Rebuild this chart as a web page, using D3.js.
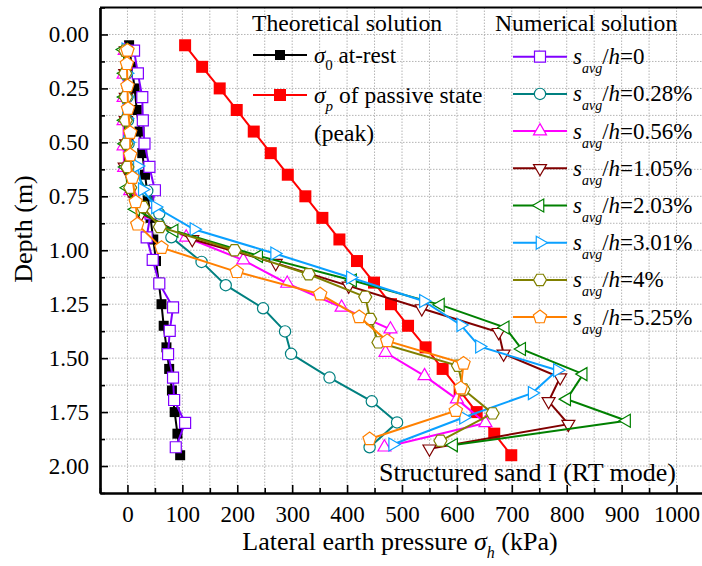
<!DOCTYPE html>
<html>
<head>
<meta charset="utf-8">
<script src="https://cdn.jsdelivr.net/npm/d3@7"></script>
<style>
  body { margin: 0; background: #fff; }
  svg { display: block; font-family: "Liberation Serif", "Times New Roman", serif; }
  .grid line { stroke: #b4b4b4; stroke-width: 1; stroke-dasharray: 1.5, 1.5; }
  .tick text { font-family: "Liberation Serif", "Times New Roman", serif; font-size: 23px; fill: #000; }
</style>
</head>
<body>
<div id="chart"></div>
<script>
"use strict";

//Theoretical solution (depth in m, pressure in kPa)
var theoryDepth = [0.05, 0.15, 0.25, 0.35, 0.45, 0.55, 0.65, 0.75, 0.85, 0.95,
  1.05, 1.15, 1.25, 1.35, 1.45, 1.55, 1.65, 1.75, 1.85, 1.95];
var sigma0 = [3, 8, 13, 17, 22, 27, 32, 37, 42, 47, 52, 57, 62, 66, 71, 76, 81, 86, 91, 96];
var sigmaP = [105, 136, 168, 199, 230, 261, 292, 324, 355, 386, 418, 449, 480, 511, 543, 574, 605, 636, 668, 699];

//Numerical solution, one depth/value pair of arrays per settlement ratio
var s0Depth = [0.075, 0.18, 0.29, 0.398, 0.506, 0.614, 0.722, 0.83, 0.94, 1.045, 1.154, 1.265, 1.374, 1.481, 1.59, 1.694, 1.80, 1.913];
var s0Value = [12, 19, 27, 28, 31, 40, 50, 42, 35, 46, 58, 83, 77, 74, 83, 85, 105, 88];

var s028Depth = [0.07, 0.18, 0.29, 0.398, 0.506, 0.614, 0.725, 0.83, 0.94, 1.054, 1.162, 1.269, 1.376, 1.48, 1.59, 1.70, 1.798, 1.913];
var s028Value = [-2, -1, 0, 1, 2, 8, 36, 58, 80, 135, 179, 247, 287, 298, 368, 445, 491, 441];

var s056Depth = [0.075, 0.185, 0.293, 0.40, 0.517, 0.617, 0.725, 0.83, 0.94, 1.046, 1.154, 1.265, 1.366, 1.474, 1.582, 1.69, 1.80, 1.913];
var s056Value = [-5, -7, -7, -7, -7, -6, 5, 30, 107, 211, 291, 390, 479, 470, 541, 600, 652, 468];

var s105Depth = [0.075, 0.18, 0.29, 0.398, 0.506, 0.614, 0.722, 0.83, 0.949, 1.06, 1.165, 1.27, 1.38, 1.48, 1.59, 1.70, 1.806, 1.92];
var s105Value = [-3, -4, -3, -3, -2, -5, 3, 25, 118, 270, 403, 536, 676, 685, 788, 767, 803, 550];

var s203Depth = [0.07, 0.18, 0.29, 0.398, 0.506, 0.614, 0.71, 0.81, 0.91, 1.026, 1.14, 1.253, 1.358, 1.458, 1.574, 1.69, 1.79, 1.903];
var s203Value = [-7, -5, -5, -5, -4, -3, 0, 15, 85, 239, 410, 570, 688, 718, 830, 800, 909, 594];

var s301Depth = [0.07, 0.18, 0.29, 0.39, 0.50, 0.61, 0.718, 0.80, 0.903, 1.015, 1.126, 1.235, 1.346, 1.446, 1.556, 1.662, 1.775, 1.90];
var s301Value = [-3, -2, -2, -2, 0, 18, 27, 51, 121, 268, 406, 539, 607, 641, 783, 737, 612, 483];

var s4Depth = [0.075, 0.18, 0.29, 0.398, 0.506, 0.614, 0.71, 0.80, 0.892, 1.0, 1.111, 1.216, 1.319, 1.427, 1.535, 1.645, 1.756, 1.883];
var s4Value = [-4, -4, -3, -3, -2, 0, 5, 28, 59, 195, 330, 433, 442, 457, 602, 612, 665, 570];

var s525Depth = [0.074, 0.136, 0.239, 0.344, 0.455, 0.559, 0.664, 0.776, 0.88, 0.988, 1.10, 1.204, 1.309, 1.42, 1.525, 1.639, 1.744, 1.875];
var s525Value = [0, -1, 0, 1, 5, 5, 9, 15, 18, 62, 199, 351, 422, 473, 612, 607, 598, 441];

var ratioLabels = ["0", "0.28%", "0.56%", "1.05%", "2.03%", "3.01%", "4%", "5.25%"];

var xTicks = [0, 100, 200, 300, 400, 500, 600, 700, 800, 900, 1000];
var yTicks = [0, 0.25, 0.5, 0.75, 1, 1.25, 1.5, 1.75, 2];

//Marker path of a regular polygon, first vertex at angle a0 (0 = up)
function polygon(n, r, a0) {
  var pts = d3.range(n).map(function (i) {
    var a = a0 + i * 2 * Math.PI / n;
    return [r * Math.sin(a), -r * Math.cos(a)];
  });
  return d3.line().curve(d3.curveLinearClosed)(pts);
}

var markers = {
  square: function (s) { return "M" + (-s) + "," + (-s) + "H" + s + "V" + s + "H" + (-s) + "Z"; },
  circle: function () { return d3.symbol().type(d3.symbolCircle).size(100)(); },
  up: function () { return polygon(3, 7.5, 0); },
  down: function () { return polygon(3, 7.5, Math.PI); },
  left: function () { return polygon(3, 7.5, -Math.PI / 2); },
  right: function () { return polygon(3, 7.5, Math.PI / 2); },
  hexagon: function () { return polygon(6, 6.5, Math.PI / 2); },
  pentagon: function () { return polygon(5, 7, 0); }
};

function drawSeries(svg, xScale, yScale, depth, value, color, path, filled) {
  var pts = depth.map(function (d, i) { return [value[i], d]; });
  var line = d3.line()
    .x(function (d) { return xScale(d[0]); })
    .y(function (d) { return yScale(d[1]); });

  var g = svg.append("g");
  g.append("path")
    .datum(pts)
    .attr("fill", "none")
    .attr("stroke", color)
    .attr("stroke-width", 2)
    .attr("d", line);

  g.selectAll("path.mk")
    .data(pts)
    .enter()
    .append("path")
    .attr("class", "mk")
    .attr("transform", function (d) { return "translate(" + xScale(d[0]) + "," + yScale(d[1]) + ")"; })
    .attr("d", path)
    .attr("fill", filled ? color : "#fff")
    .attr("stroke", color)
    .attr("stroke-width", filled ? 0 : 1.2);
}

//Legend sample: short line with marker in the middle
function legendSample(svg, x1, x2, y, color, path, filled) {
  svg.append("line")
    .attr("x1", x1).attr("x2", x2)
    .attr("y1", y).attr("y2", y)
    .attr("stroke", color)
    .attr("stroke-width", 2);
  svg.append("path")
    .attr("transform", "translate(" + ((x1 + x2) / 2) + "," + y + ")")
    .attr("d", path)
    .attr("fill", filled ? color : "#fff")
    .attr("stroke", color)
    .attr("stroke-width", filled ? 0 : 1.2);
}

function chart(w, h) {
  var left = 100, right = 704, top = 7.5, bottom = 493;

  var xScale = d3.scaleLinear().domain([-50, 1050]).range([left, right]);
  var yScale = d3.scaleLinear().domain([-0.125, 2.125]).range([top, bottom]);

  var svg = d3.select("#chart")
    .append("svg")
    .attr("width", w)
    .attr("height", h);

  //Dotted grid every 50 kPa and every 0.125 m
  var grid = svg.append("g").attr("class", "grid");
  grid.selectAll("line.gx")
    .data(d3.range(0, 1051, 50))
    .enter().append("line")
    .attr("x1", function (d) { return xScale(d); })
    .attr("x2", function (d) { return xScale(d); })
    .attr("y1", top).attr("y2", bottom);
  grid.selectAll("line.gy")
    .data(d3.range(0, 17).map(function (i) { return i * 0.125; }))
    .enter().append("line")
    .attr("y1", function (d) { return yScale(d); })
    .attr("y2", function (d) { return yScale(d); })
    .attr("x1", left).attr("x2", right);

  //Curves
  var series = [
    [theoryDepth, sigma0, "#000000", markers.square(5), true],
    [theoryDepth, sigmaP, "#ff0000", markers.square(6), true],
    [s0Depth, s0Value, "#8000ff", markers.square(5.5), false],
    [s028Depth, s028Value, "#008080", markers.circle(), false],
    [s056Depth, s056Value, "#ff00ff", markers.up(), false],
    [s105Depth, s105Value, "#800000", markers.down(), false],
    [s203Depth, s203Value, "#008000", markers.left(), false],
    [s301Depth, s301Value, "#0aa0ff", markers.right(), false],
    [s4Depth, s4Value, "#808000", markers.hexagon(), false],
    [s525Depth, s525Value, "#ff8000", markers.pentagon(), false]
  ];
  series.forEach(function (s) {
    drawSeries(svg, xScale, yScale, s[0], s[1], s[2], s[3], s[4]);
  });

  //Axes with inward ticks
  var xAxis = d3.axisBottom(xScale)
    .tickValues(xTicks)
    .tickSize(-8)
    .tickSizeOuter(0)
    .tickPadding(13)
    .tickFormat(d3.format("d"));
  var xMinor = d3.axisBottom(xScale)
    .tickValues(d3.range(-50, 1051, 100))
    .tickSize(-5)
    .tickSizeOuter(0)
    .tickFormat("");
  var yAxis = d3.axisLeft(yScale)
    .tickValues(yTicks)
    .tickSize(-8)
    .tickSizeOuter(0)
    .tickPadding(11)
    .tickFormat(d3.format(".2f"));
  var yMinor = d3.axisLeft(yScale)
    .tickValues(d3.range(0, 9).map(function (i) { return 0.125 + i * 0.25; }).concat([-0.125]))
    .tickSize(-5)
    .tickSizeOuter(0)
    .tickFormat("");

  [xAxis, xMinor].forEach(function (a) {
    svg.append("g")
      .attr("class", "axis")
      .attr("transform", "translate(0," + bottom + ")")
      .call(a);
  });
  [yAxis, yMinor].forEach(function (a) {
    svg.append("g")
      .attr("class", "axis")
      .attr("transform", "translate(" + left + ",0)")
      .call(a);
  });
  //Use the page serif font instead of the axis default
  svg.selectAll(".axis").attr("font-family", null).attr("font-size", null);
  svg.selectAll(".axis path.domain").attr("stroke-width", 2.2);
  svg.selectAll(".axis .tick line").attr("stroke-width", 1.6);

  //Top frame line
  svg.append("line")
    .attr("x1", left).attr("x2", w)
    .attr("y1", top).attr("y2", top)
    .attr("stroke", "#000").attr("stroke-width", 2.2);

  //Axis titles
  var xt = svg.append("text")
    .attr("x", 400).attr("y", 550)
    .attr("text-anchor", "middle")
    .attr("font-size", 26);
  xt.append("tspan").text("Lateral earth pressure ");
  xt.append("tspan").attr("font-style", "italic").text("σ");
  xt.append("tspan").attr("font-style", "italic").attr("font-size", 16).attr("dy", 8).text("h");
  xt.append("tspan").attr("dy", -8).text(" (kPa)");

  svg.append("text")
    .attr("transform", "translate(32,229) rotate(-90)")
    .attr("text-anchor", "middle")
    .attr("font-size", 26)
    .text("Depth (m)");

  //Legend: theoretical solution
  svg.append("text").attr("x", 252).attr("y", 31).attr("font-size", 23.7).text("Theoretical solution");
  legendSample(svg, 253, 307, 55, "#000000", markers.square(5), true);
  legendSample(svg, 253, 307, 95, "#ff0000", markers.square(6), true);

  var t0 = svg.append("text").attr("x", 314).attr("y", 63).attr("font-size", 23);
  t0.append("tspan").attr("font-style", "italic").text("σ");
  t0.append("tspan").attr("font-size", 15).attr("dy", 7).text("0");
  t0.append("tspan").attr("dy", -7).text(" at-rest");

  var tp = svg.append("text").attr("x", 314).attr("y", 103).attr("font-size", 23.5);
  tp.append("tspan").attr("font-style", "italic").text("σ");
  tp.append("tspan").attr("font-style", "italic").attr("font-size", 15).attr("dy", 8).text("p");
  tp.append("tspan").attr("dy", -8).text(" of passive state");
  svg.append("text").attr("x", 314).attr("y", 141).attr("font-size", 23.5).text("(peak)");

  //Legend: numerical solution
  svg.append("text").attr("x", 495).attr("y", 31).attr("font-size", 23.7).text("Numerical solution");
  series.slice(2).forEach(function (s, i) {
    var y = 56.7 + i * 37.2;
    legendSample(svg, 513, 567, y, s[2], s[3], false);
    var t = svg.append("text").attr("x", 573).attr("y", y + 7.5).attr("font-size", 23);
    t.append("tspan").attr("font-style", "italic").text("s");
    t.append("tspan").attr("font-style", "italic").attr("font-size", 14).attr("dy", 9).text("avg");
    t.append("tspan").attr("dy", -9).text("/");
    t.append("tspan").attr("font-style", "italic").text("h");
    t.append("tspan").text("=" + ratioLabels[i]);
  });

  svg.append("text")
    .attr("x", 676).attr("y", 481)
    .attr("text-anchor", "end")
    .attr("font-size", 26)
    .text("Structured sand I (RT mode)");
}

function init() {
  chart(702, 566);
}

window.onload = init;
</script>
</body>
</html>
